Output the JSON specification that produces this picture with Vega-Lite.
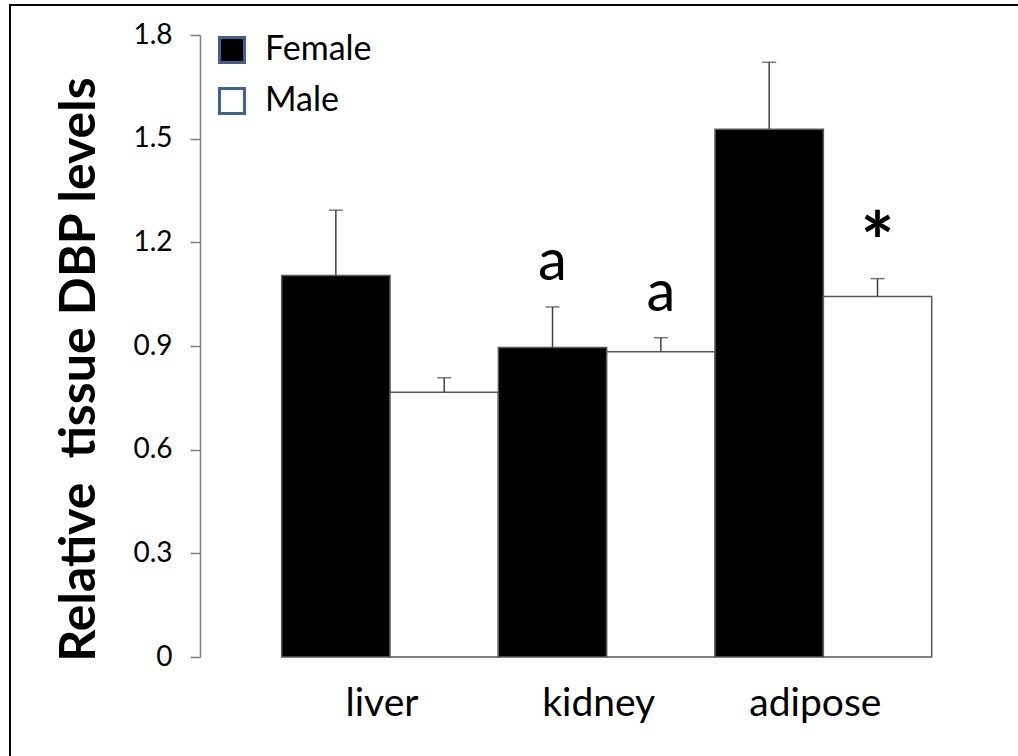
{
  "$schema": "https://vega.github.io/schema/vega-lite/v6.json",
  "width": 1014,
  "height": 757,
  "padding": {"left": 10, "top": 5, "right": -6, "bottom": -6},
  "autosize": {"type": "none"},
  "background": "white",
  "view": {"stroke": "black", "strokeWidth": 2},
  "config": {
    "font": "Lato"
  },
  "data": {
    "values": [
      {"tissue": "liver", "sex": "Female", "value": 1.104, "upper": 1.293, "sig": ""},
      {"tissue": "liver", "sex": "Male", "value": 0.766, "upper": 0.808, "sig": ""},
      {"tissue": "kidney", "sex": "Female", "value": 0.896, "upper": 1.013, "sig": "a"},
      {"tissue": "kidney", "sex": "Male", "value": 0.883, "upper": 0.924, "sig": "a"},
      {"tissue": "adipose", "sex": "Female", "value": 1.527, "upper": 1.721, "sig": ""},
      {"tissue": "adipose", "sex": "Male", "value": 1.043, "upper": 1.095, "sig": "*"}
    ]
  },
  "layer": [
    {
      "mark": {"type": "bar", "stroke": "#595959", "strokeWidth": 1.5},
      "encoding": {
        "x": {
          "field": "tissue", "type": "nominal", "sort": ["liver", "kidney", "adipose"],
          "scale": {"paddingInner": 0, "paddingOuter": 0.84, "align": 0.7464},
          "axis": {"orient": "bottom", "offset": -105, "domain": false, "ticks": false, "tickSize": 0, "labelFontSize": 39, "labelColor": "#000", "labelPadding": 58, "labelBaseline": "alphabetic", "labelAngle": 0, "labelOffset": -8, "title": null}
        },
        "xOffset": {"field": "sex", "type": "nominal", "sort": ["Female", "Male"], "scale": {"paddingInner": 0, "paddingOuter": 0}},
        "y": {
          "field": "value", "type": "quantitative",
          "scale": {"domain": [0, 1.8], "range": [652, 30], "nice": false, "zero": true},
          "axis": {"orient": "left", "offset": -190, "values": [0, 0.3, 0.6, 0.9, 1.2, 1.5, 1.8], "format": ".1~f", "grid": false,
            "domainColor": "#7f7f7f", "domainWidth": 1.5, "tickColor": "#7f7f7f", "tickWidth": 1.5, "tickSize": 10,
            "labelFontSize": 28, "labelColor": "#000", "labelPadding": 18,
            "title": "Relative\u00a0 tissue DBP levels", "titleFontSize": 50, "titleFontWeight": "bold", "titleColor": "#000",
            "titleAngle": 270, "titleX": -106, "titleY": 364, "titleBaseline": "alphabetic", "titleAlign": "center"}
        },
        "fill": {
          "field": "sex", "type": "nominal",
          "scale": {"domain": ["Female", "Male"], "range": ["#000000", "#ffffff"]},
          "legend": {
            "orient": "none", "legendX": 205, "legendY": 28, "title": null, "padding": 0,
            "symbolType": "square", "symbolSize": 625, "symbolStrokeWidth": 3, "symbolStrokeColor": "#3e6191",
            "labelFontSize": 34, "labelColor": "#000", "labelOffset": 16, "rowPadding": 13,
            "encode": {"symbols": {"update": {"stroke": {"value": "#3e6191"}, "strokeWidth": {"value": 3}}}}
          }
        }
      }
    },
    {
      "mark": {"type": "rule", "color": "#404040", "strokeWidth": 1.5},
      "encoding": {
        "x": {"field": "tissue", "type": "nominal", "sort": ["liver", "kidney", "adipose"]},
        "xOffset": {"field": "sex", "type": "nominal", "sort": ["Female", "Male"]},
        "y": {"field": "value", "type": "quantitative"},
        "y2": {"field": "upper"}
      }
    },
    {
      "mark": {"type": "tick", "color": "#404040", "size": 14, "thickness": 1.5, "orient": "horizontal"},
      "encoding": {
        "x": {"field": "tissue", "type": "nominal", "sort": ["liver", "kidney", "adipose"]},
        "xOffset": {"field": "sex", "type": "nominal", "sort": ["Female", "Male"]},
        "y": {"field": "upper", "type": "quantitative"}
      }
    },
    {
      "transform": [{"filter": "datum.sig == 'a'"}],
      "mark": {"type": "text", "fontSize": 58, "color": "#000", "baseline": "alphabetic", "dy": -27},
      "encoding": {
        "x": {"field": "tissue", "type": "nominal", "sort": ["liver", "kidney", "adipose"]},
        "xOffset": {"field": "sex", "type": "nominal", "sort": ["Female", "Male"]},
        "y": {"field": "upper", "type": "quantitative"},
        "text": {"field": "sig"}
      }
    },
    {
      "transform": [{"filter": "datum.sig == '*'"}],
      "mark": {"type": "text", "fontSize": 80, "fontWeight": "bold", "color": "#000", "baseline": "alphabetic", "dy": -8},
      "encoding": {
        "x": {"field": "tissue", "type": "nominal", "sort": ["liver", "kidney", "adipose"]},
        "xOffset": {"field": "sex", "type": "nominal", "sort": ["Female", "Male"]},
        "y": {"field": "upper", "type": "quantitative"},
        "text": {"field": "sig"}
      }
    }
  ]
}
